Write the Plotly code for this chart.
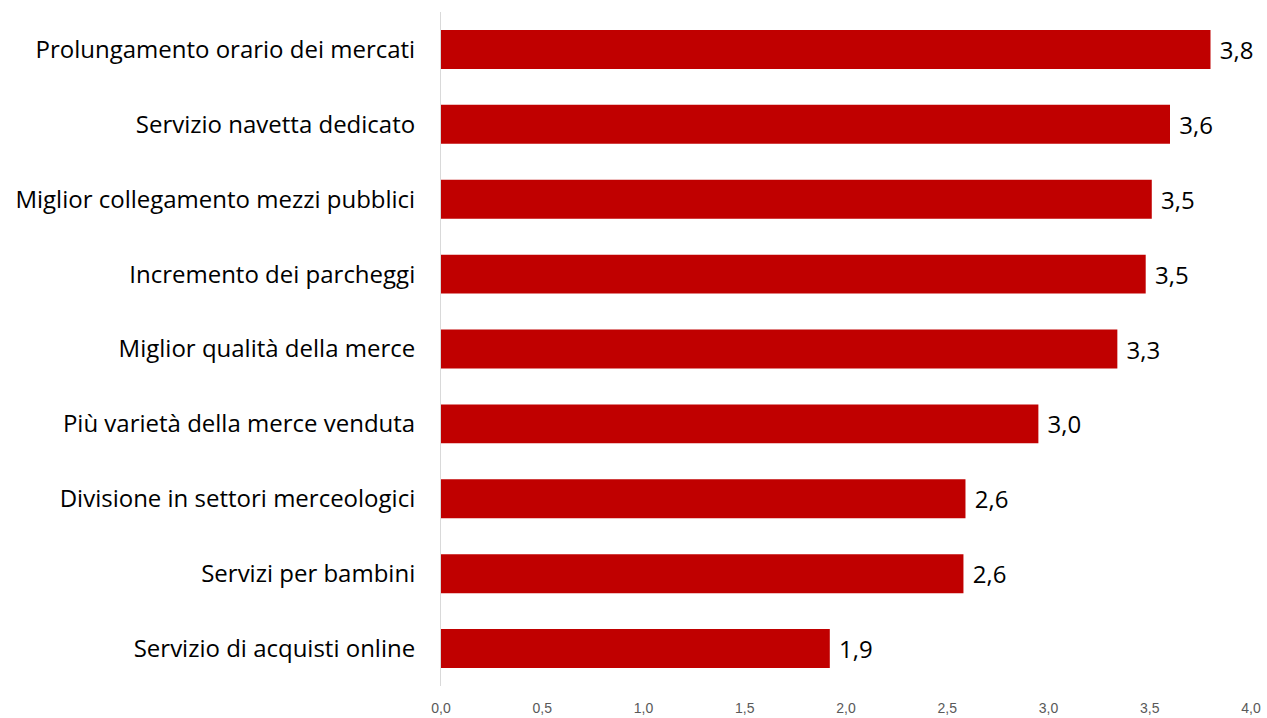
import plotly.graph_objects as go

# Categories listed bottom-to-top so the highest score sits at the top
categories = [
    "Servizio di acquisti online",
    "Servizi per bambini",
    "Divisione in settori merceologici",
    "Più varietà della merce venduta",
    "Miglior qualità della merce",
    "Incremento dei parcheggi",
    "Miglior collegamento mezzi pubblici",
    "Servizio navetta dedicato",
    "Prolungamento orario dei mercati",
]
scores = [1.92, 2.58, 2.59, 2.95, 3.34, 3.48, 3.51, 3.6, 3.8]

tick_values = [0, 0.5, 1, 1.5, 2, 2.5, 3, 3.5, 4]

LABEL_FONT = "'Open Sans', Lato, sans-serif"
TICK_FONT = "'Liberation Sans Narrow', 'Liberation Sans', sans-serif"

fig = go.Figure(
    go.Bar(
        y=categories,
        x=scores,
        orientation="h",
        marker=dict(color="#C00000", line=dict(width=0)),
        width=0.52,
        text=scores,
        texttemplate=" %{x:.1f}",
        textposition="outside",
        textfont=dict(family=LABEL_FONT, size=24, color="#000000"),
        cliponaxis=False,
        hoverinfo="skip",
    )
)

fig.update_layout(
    width=1267,
    height=718,
    margin=dict(l=441, r=16, t=12, b=32),
    paper_bgcolor="white",
    plot_bgcolor="white",
    separators=",.",
    showlegend=False,
    xaxis=dict(
        range=[0, 4],
        tickvals=tick_values,
        tickformat=".1f",
        automargin=False,
        showgrid=False,
        zeroline=False,
        showline=False,
        ticks="",
        ticklabelstandoff=12,
        tickfont=dict(family=TICK_FONT, size=14, color="#595959"),
    ),
    yaxis=dict(
        categoryorder="array",
        categoryarray=categories,
        range=[-0.5, 8.5],
        automargin=False,
        showgrid=False,
        zeroline=False,
        showline=True,
        linecolor="#D9D9D9",
        linewidth=1,
        ticks="",
        ticklabelstandoff=20,
        tickfont=dict(family=LABEL_FONT, size=24, color="#000000"),
    ),
)

fig.write_html("out.html")
